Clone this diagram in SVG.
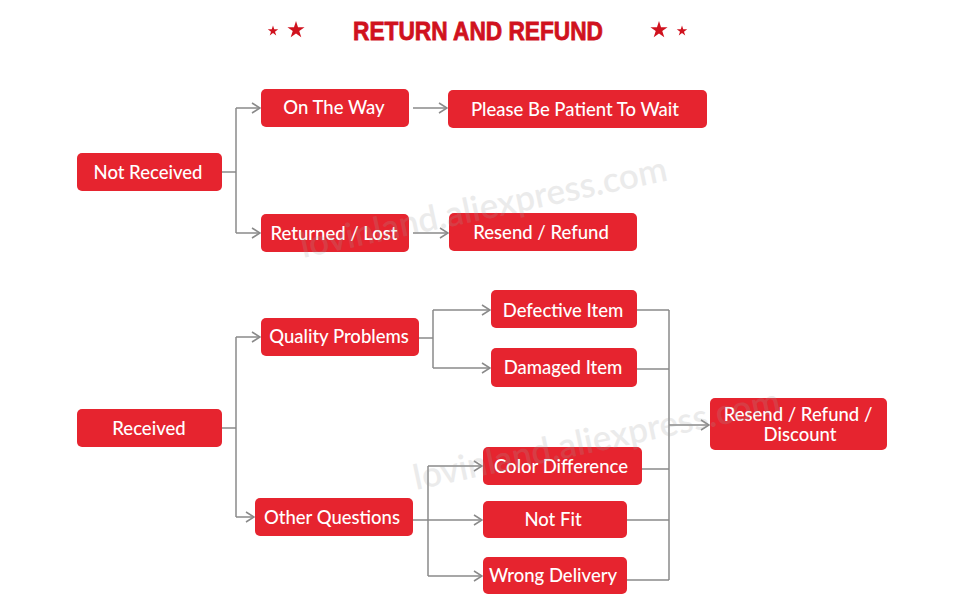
<svg xmlns="http://www.w3.org/2000/svg" width="960" height="616" viewBox="0 0 960 616">
<style>
.box{fill:#e6242f;}
.lbl{fill:#fff;font-family:Lato,"Open Sans",sans-serif;font-size:18.5px;font-weight:500;text-anchor:middle;dominant-baseline:central;}
.ln{fill:none;stroke:#8a8a8a;stroke-width:1.5;}
.ar{fill:none;stroke:#8a8a8a;stroke-width:1.5;marker-end:url(#chev);}
.wm{fill:#a0a0a0;opacity:0.2;font-family:Lato,"Open Sans",sans-serif;font-size:35px;font-weight:600;}
</style>
<defs>
<marker id="chev" viewBox="0 0 10 12" refX="9" refY="6" markerWidth="10" markerHeight="12" markerUnits="userSpaceOnUse" orient="auto">
<path d="M1,1 L9,6 L1,11" fill="none" stroke="#8a8a8a" stroke-width="1.5"/>
</marker>
<polygon id="star" points="0,-1 0.2245,-0.309 0.951,-0.309 0.363,0.118 0.588,0.809 0,0.382 -0.588,0.809 -0.363,0.118 -0.951,-0.309 -0.2245,-0.309"/>
</defs>
<rect width="960" height="616" fill="#fff"/>
<g id="title">
<text x="478" y="40" fill="#d0121e" stroke="#d0121e" stroke-width="0.8" font-family="Liberation Sans,Arial,sans-serif" font-size="25" font-weight="bold" text-anchor="middle" textLength="250" lengthAdjust="spacingAndGlyphs">RETURN AND REFUND</text>
<use href="#star" transform="translate(273,31) scale(5.5)" fill="#d0121e"/>
<use href="#star" transform="translate(296,30) scale(9)" fill="#d0121e"/>
<use href="#star" transform="translate(659,30) scale(9)" fill="#d0121e"/>
<use href="#star" transform="translate(682,31) scale(5.5)" fill="#d0121e"/>
</g>
<g id="connectors">
<path class="ln" d="M222,172 H236 M236,108 V233"/>
<path class="ar" d="M236,108 H260"/>
<path class="ar" d="M236,233 H260"/>
<path class="ar" d="M413,108 H447"/>
<path class="ar" d="M413,233 H448"/>
<path class="ln" d="M222,428 H236 M236,337 V517"/>
<path class="ar" d="M236,337 H260"/>
<path class="ar" d="M236,517 H254"/>
<path class="ln" d="M419,338 H433 M433,310 V368"/>
<path class="ar" d="M433,310 H490"/>
<path class="ar" d="M433,368 H490"/>
<path class="ln" d="M413,520 H428 M428,466 V576"/>
<path class="ar" d="M428,466 H482"/>
<path class="ar" d="M428,520 H482"/>
<path class="ar" d="M428,576 H482"/>
<path class="ln" d="M637,310 H669 M637,369 H669 M642,469 H669 M627,520 H669 M627,580 H669 M669,310 V580"/>
<path class="ar" d="M669,425 H709"/>
</g>
<g id="not-received"><rect class="box" x="77" y="153" width="145" height="38" rx="5"/><text class="lbl" x="148" y="172">Not Received</text></g>
<g id="on-the-way"><rect class="box" x="261" y="89" width="148" height="38" rx="5"/><text class="lbl" x="334" y="107">On The Way</text></g>
<g id="returned-lost"><rect class="box" x="261" y="214" width="148" height="38" rx="5"/><text class="lbl" x="334" y="233">Returned / Lost</text></g>
<g id="please-wait"><rect class="box" x="448" y="90" width="259" height="38" rx="5"/><text class="lbl" x="575" y="109">Please Be Patient To Wait</text></g>
<g id="resend-refund"><rect class="box" x="449" y="213" width="188" height="38" rx="5"/><text class="lbl" x="541" y="232">Resend / Refund</text></g>
<g id="received"><rect class="box" x="77" y="409" width="145" height="38" rx="5"/><text class="lbl" x="149" y="428">Received</text></g>
<g id="quality-problems"><rect class="box" x="261" y="318" width="158" height="38" rx="5"/><text class="lbl" x="339" y="336">Quality Problems</text></g>
<g id="other-questions"><rect class="box" x="255" y="498" width="158" height="38" rx="5"/><text class="lbl" x="332" y="517">Other Questions</text></g>
<g id="defective-item"><rect class="box" x="491" y="290" width="146" height="38" rx="5"/><text class="lbl" x="563" y="310">Defective Item</text></g>
<g id="damaged-item"><rect class="box" x="491" y="348" width="146" height="39" rx="5"/><text class="lbl" x="563" y="367">Damaged Item</text></g>
<g id="color-difference"><rect class="box" x="483" y="447" width="159" height="38" rx="5"/><text class="lbl" x="561" y="466">Color Difference</text></g>
<g id="not-fit"><rect class="box" x="483" y="501" width="144" height="37" rx="5"/><text class="lbl" x="553" y="519">Not Fit</text></g>
<g id="wrong-delivery"><rect class="box" x="483" y="557" width="144" height="37" rx="5"/><text class="lbl" x="553" y="575">Wrong Delivery</text></g>
<g id="resend-refund-discount"><rect class="box" x="710" y="398" width="177" height="52" rx="5"/><text class="lbl" x="798" y="414">Resend / Refund /</text><text class="lbl" x="800" y="434">Discount</text></g>
<g id="watermark">
<text class="wm" transform="translate(303,258) rotate(-12)">lovinland.aliexpress.com</text>
<text class="wm" transform="translate(416,490) rotate(-12)">lovinland.aliexpress.com</text>
</g>
</svg>
